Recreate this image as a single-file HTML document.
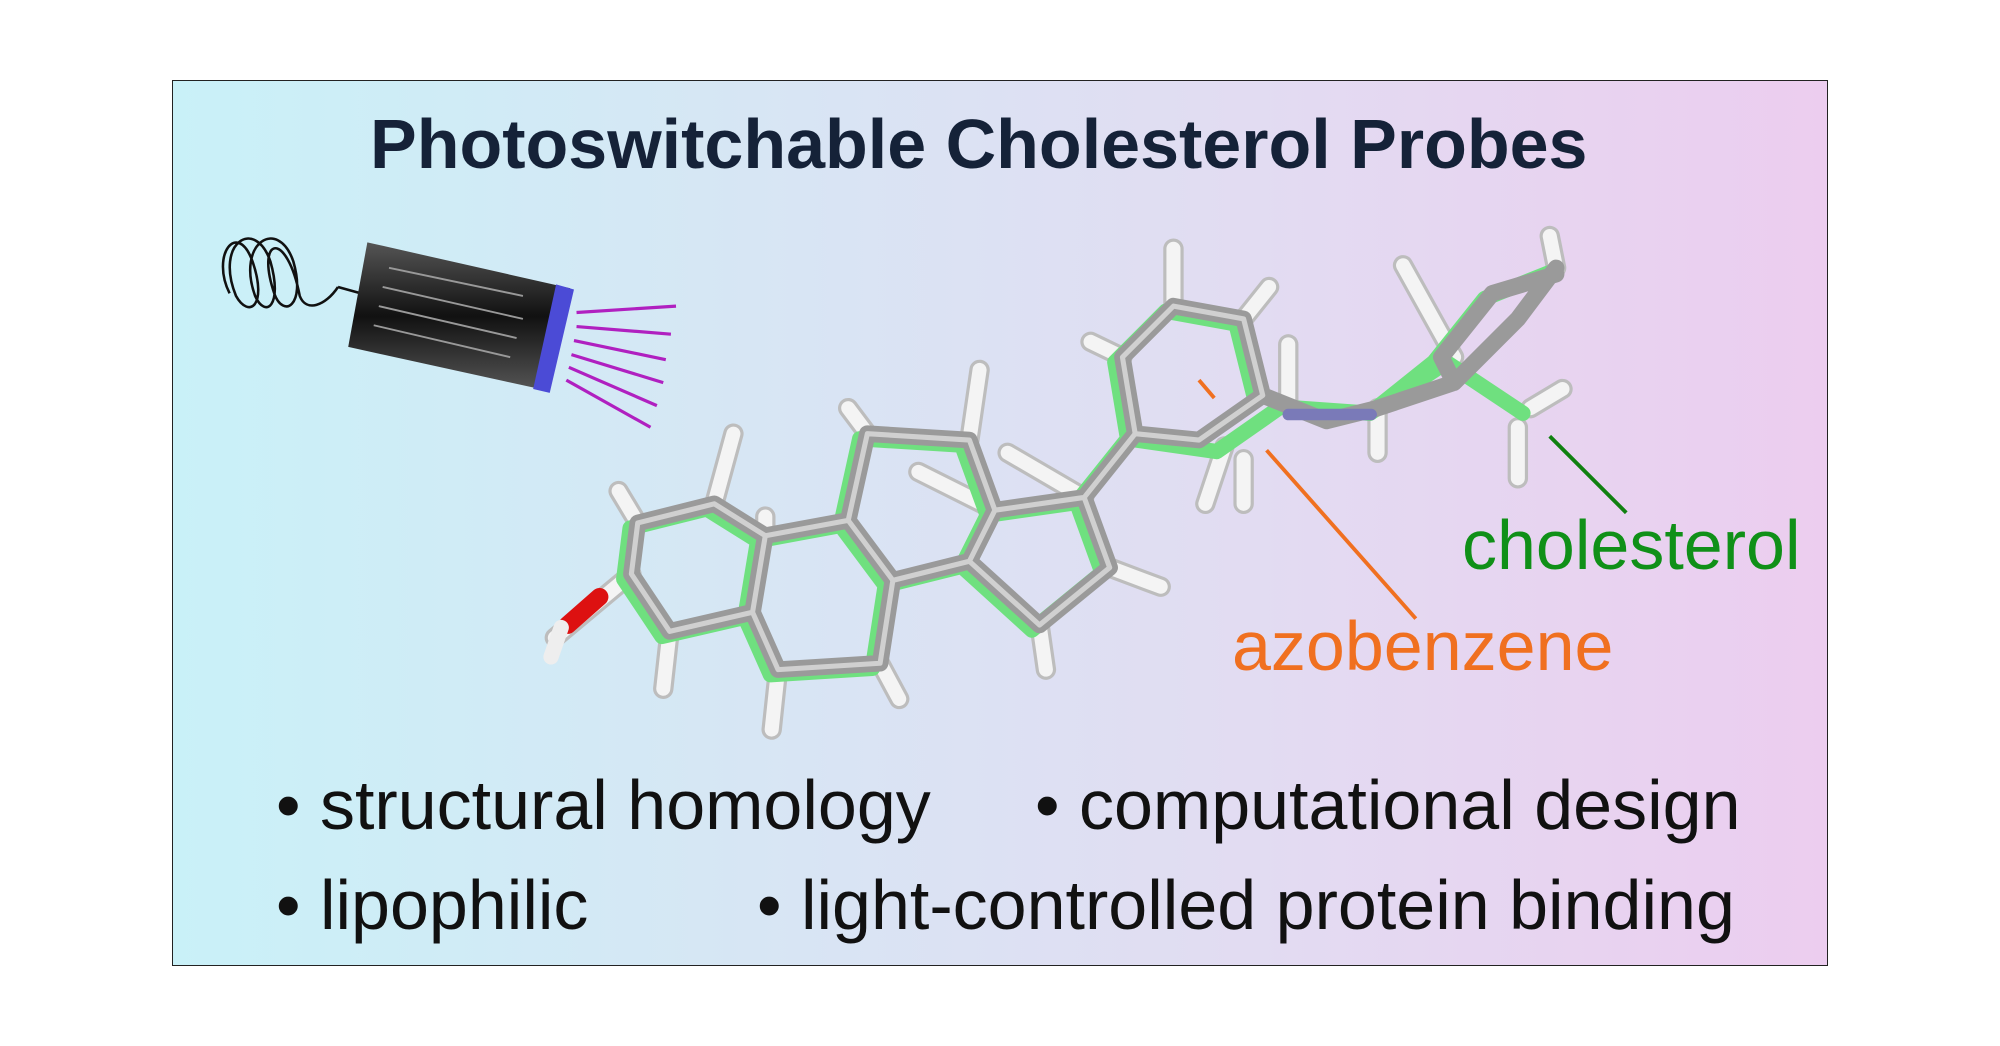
<!DOCTYPE html>
<html><head><meta charset="utf-8"><style>
html,body{margin:0;padding:0;background:#fff;width:2000px;height:1046px;overflow:hidden}
#box{position:absolute;left:172px;top:80px;width:1654px;height:884px;border:1.5px solid #222;
background:linear-gradient(90deg,#c9f1f8 0%,#d7e6f4 35%,#e2dcf2 65%,#eccdef 100%)}
.t{position:absolute;font-family:"Liberation Sans",sans-serif;white-space:nowrap}
svg{position:absolute;left:0;top:0}
</style></head><body>
<div id="box"></div>
<svg width="2000" height="1046" viewBox="0 0 2000 1046">
<g transform="scale(1.2755)">
<path d="M265,225 C255,240 240,245 235,232 C225,180 200,185 215,230 C222,250 240,240 230,205 C218,170 185,190 200,232 C208,250 222,240 212,205 C200,170 168,190 185,232 C195,250 210,240 198,205 C186,172 165,200 180,230" fill="none" stroke="#111" stroke-width="2"/>
<line x1="265" y1="225" x2="283" y2="230" stroke="#111" stroke-width="2"/>
<defs><linearGradient id="lg" x1="0" y1="0" x2="0" y2="1"><stop offset="0" stop-color="#555"/><stop offset="0.5" stop-color="#111"/><stop offset="1" stop-color="#555"/></linearGradient></defs>
<polygon points="288,190 447,226 428,306 273,272" fill="url(#lg)"/>
<g stroke="#999" stroke-width="1.5"><line x1="305" y1="210" x2="410" y2="232"/><line x1="300" y1="225" x2="410" y2="250"/><line x1="297" y1="240" x2="405" y2="265"/><line x1="293" y1="255" x2="400" y2="280"/></g>
<polygon points="436,223 450,227 431,308 418,305" fill="#4b4bd6"/>
<g stroke="#b020c0" stroke-width="2.5"><line x1="452" y1="245" x2="530" y2="240"/><line x1="452" y1="256" x2="526" y2="262"/><line x1="450" y1="267" x2="522" y2="282"/><line x1="448" y1="278" x2="520" y2="300"/><line x1="446" y1="288" x2="515" y2="318"/><line x1="444" y1="298" x2="510" y2="335"/></g>
<g fill="none" stroke-linecap="round" stroke-linejoin="round">
<g stroke="#bdbdbd" stroke-width="16">
<path d="M500,410 L485,385 M560,395 L575,340 M600,420 L600,405 M525,495 L520,540 M610,525 L605,572 M690,520 L705,548 M680,340 L665,320 M760,345 L768,290 M780,400 L720,370 M850,390 L790,355 M870,445 L910,460 M815,490 L820,525 M880,280 L855,268 M920,240 L920,195 M975,250 L995,225 M960,350 L945,395 M975,360 L975,395 M1010,315 L1010,270 M1080,320 L1080,355 M1140,280 L1100,208 M1200,320 L1225,305 M1190,335 L1190,375 M1220,210 L1215,185 M495,450 L435,500"/>
</g>
<g stroke="#f4f4f4" stroke-width="11">
<path d="M500,410 L485,385 M560,395 L575,340 M600,420 L600,405 M525,495 L520,540 M610,525 L605,572 M690,520 L705,548 M680,340 L665,320 M760,345 L768,290 M780,400 L720,370 M850,390 L790,355 M870,445 L910,460 M815,490 L820,525 M880,280 L855,268 M920,240 L920,195 M975,250 L995,225 M960,350 L945,395 M975,360 L975,395 M1010,315 L1010,270 M1080,320 L1080,355 M1140,280 L1100,208 M1200,320 L1225,305 M1190,335 L1190,375 M1220,210 L1215,185 M495,450 L435,500"/>
</g>
<g stroke="#6fe07f" stroke-width="12" transform="translate(-6,4)">
<path d="M500,410 L560,395 L600,420 L590,480 L525,495 L495,450 Z M600,420 L665,408 L700,455 L690,520 L610,525 L590,480 M665,408 L680,340 L760,345 L780,400 L760,440 L700,455 M780,400 L850,390 L870,445 L815,490 L760,440 M850,390 L890,340 L960,350 L1010,315 L1080,320 L1140,280 L1200,320 M890,340 L880,280 L920,240 L975,250 L990,310 L940,345 M1080,320 L1130,280 L1170,230 L1220,210"/>
</g>
<g stroke="#9a9a9a" stroke-width="13">
<path d="M500,410 L560,395 L600,420 L590,480 L525,495 L495,450 Z M600,420 L665,408 L700,455 L690,520 L610,525 L590,480 M665,408 L680,340 L760,345 L780,400 L760,440 L700,455 M780,400 L850,390 L870,445 L815,490 L760,440 M850,390 L890,340 M890,340 L880,280 L920,240 L975,250 L990,310 L940,345 Z M990,310 L1040,330 L1080,320 L1140,300 L1190,250 L1220,210 M1140,300 L1130,280 L1170,230 L1220,215"/>
</g>
<g stroke="#d0d0d0" stroke-width="4">
<path d="M500,410 L560,395 L600,420 L590,480 L525,495 L495,450 Z M600,420 L665,408 L700,455 L690,520 L610,525 L590,480 M665,408 L680,340 L760,345 L780,400 L760,440 L700,455 M780,400 L850,390 L870,445 L815,490 L760,440 M850,390 L890,340 M890,340 L880,280 L920,240 L975,250 L990,310 L940,345 Z"/>
</g>
<path d="M1010,325 L1075,325" stroke="#7a7ab8" stroke-width="9"/>
<path d="M445,490 L470,468" stroke="#dd1111" stroke-width="14"/>
<path d="M440,492 L432,515" stroke="#eee" stroke-width="12"/>
</g>
<line x1="993" y1="353" x2="1110" y2="485" stroke="#f07020" stroke-width="3"/>
<line x1="940" y1="298" x2="952" y2="312" stroke="#f07020" stroke-width="3"/>
<line x1="1215" y1="342" x2="1275" y2="402" stroke="#108010" stroke-width="3"/>
</g>
</svg>
<div class="t" style="left:370px;top:104px;font-size:70px;font-weight:bold;color:#152238">Photoswitchable Cholesterol Probes</div>
<div class="t" style="left:1462px;top:505px;font-size:70px;color:#109018">cholesterol</div>
<div class="t" style="left:1232px;top:606px;font-size:70px;color:#f07020">azobenzene</div>
<div class="t" style="left:276px;top:765px;font-size:70px;color:#111">• structural homology</div>
<div class="t" style="left:1035px;top:765px;font-size:70px;color:#111">• computational design</div>
<div class="t" style="left:276px;top:865px;font-size:70px;color:#111">• lipophilic</div>
<div class="t" style="left:757px;top:865px;font-size:70px;color:#111">• light-controlled protein binding</div>
</body></html>
